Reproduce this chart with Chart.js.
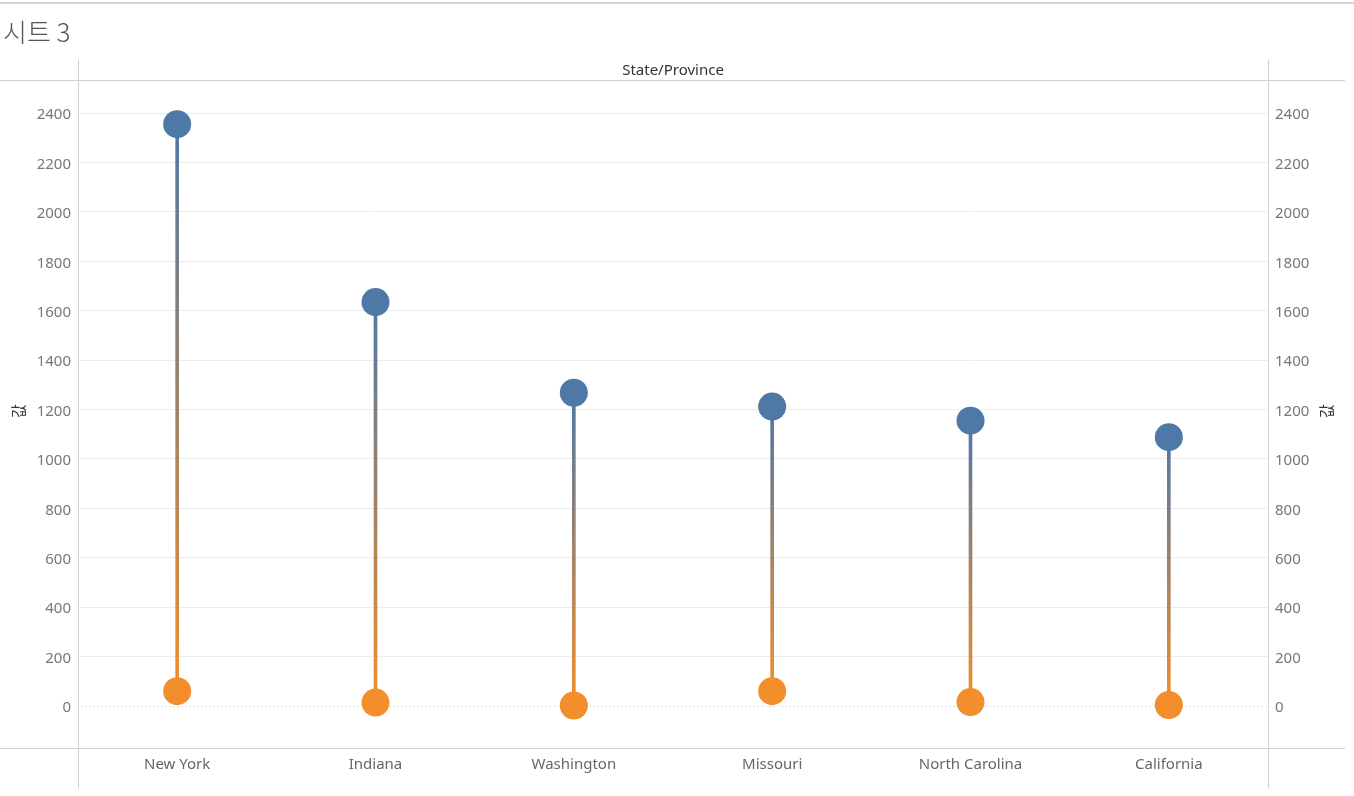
<!DOCTYPE html>
<html>
<head>
<meta charset="utf-8">
<script src="https://cdn.jsdelivr.net/npm/chart.js@4.4.1/dist/chart.umd.min.js"></script>
<style>
  html, body { margin: 0; padding: 0; background: #fff; }
  #wrap { position: relative; width: 1354px; height: 796px; }
  #title {
    position: absolute; left: 3px; top: 12px;
    font-family: "Noto Sans CJK KR", "Noto Sans", sans-serif;
    font-size: 26px; font-weight: 300; color: #555;
  }
</style>
</head>
<body>
<div id="wrap">
  <div id="title">시트 3</div>
  <canvas id="chart" width="1354" height="796"></canvas>
</div>
<script>
// Data
const states = ['New York', 'Indiana', 'Washington', 'Missouri', 'North Carolina', 'California'];
const highValues = [2355, 1635, 1268, 1212, 1155, 1088];
const lowValues = [60, 14, 2, 60, 16, 4];
const yTicks = [0, 200, 400, 600, 800, 1000, 1200, 1400, 1600, 1800, 2000, 2200, 2400];
const axisTitle = '값';

const BLUE = '#4e79a7';
const ORANGE = '#f28e2b';
const FONT = '"Noto Sans", "Open Sans", sans-serif';
const KFONT = '"Noto Sans CJK KR", sans-serif';

// Stem gradient, blue at top, orange at bottom
function stemColor(ctx) {
    const chart = ctx.chart;
    const y = chart.scales.y;
    if (!chart.chartArea || !y) return BLUE;
    const i = ctx.dataIndex;
    const top = y.getPixelForValue(highValues[i]);
    const bottom = y.getPixelForValue(lowValues[i]);
    const g = chart.ctx.createLinearGradient(0, top, 0, bottom);
    g.addColorStop(0, BLUE);
    g.addColorStop(1, ORANGE);
    return g;
}

// Frame lines, header text, axis titles and dotted zero line
const framePlugin = {
    id: 'frame',
    beforeDatasetsDraw(chart) {
        const { ctx, chartArea: a, scales: { y } } = chart;
        ctx.save();
        const z = Math.round(y.getPixelForValue(0)) + 0.5;
        ctx.strokeStyle = '#c4c4c4';
        ctx.lineWidth = 1;
        ctx.setLineDash([1, 3]);
        ctx.beginPath();
        ctx.moveTo(a.left, z);
        ctx.lineTo(a.right, z);
        ctx.stroke();
        ctx.restore();
    },
    afterDraw(chart) {
        const { ctx, chartArea: a } = chart;
        ctx.save();
        ctx.strokeStyle = '#d0d0d0';
        ctx.lineWidth = 1;
        const L = Math.round(a.left) + 0.5, R = Math.round(a.right) + 0.5;
        const T = Math.round(a.top) + 0.5, B = Math.round(a.bottom) + 0.5;
        ctx.beginPath();
        ctx.moveTo(L, 60); ctx.lineTo(L, 788);
        ctx.moveTo(R, 60); ctx.lineTo(R, 788);
        ctx.moveTo(0, T); ctx.lineTo(1345, T);
        ctx.moveTo(0, B); ctx.lineTo(1345, B);
        ctx.stroke();
        // top strip
        ctx.strokeStyle = '#d6d6d6';
        ctx.lineWidth = 2;
        ctx.beginPath();
        ctx.moveTo(0, 3); ctx.lineTo(1354, 3);
        ctx.stroke();
        // header
        ctx.fillStyle = '#333';
        ctx.font = '15px ' + FONT;
        ctx.textAlign = 'center';
        ctx.textBaseline = 'middle';
        ctx.fillText('State/Province', (a.left + a.right) / 2, 71);
        // axis titles, both read bottom to top
        ctx.font = '15px ' + KFONT;
        const midY = (a.top + a.bottom) / 2 - 3;
        [18, 1326].forEach(x => {
            ctx.save();
            ctx.translate(x, midY);
            ctx.rotate(-Math.PI / 2);
            ctx.fillText(axisTitle, 0, 0);
            ctx.restore();
        });
        ctx.restore();
    }
};

const yRange = { min: -170, max: 2534 };
const tickLabel = (v) => String(v);

new Chart(document.getElementById('chart'), {
    data: {
        labels: states,
        datasets: [
            {
                type: 'line',
                label: 'High',
                data: highValues,
                showLine: false,
                pointRadius: 14,
                pointHoverRadius: 14,
                pointBackgroundColor: BLUE,
                pointBorderWidth: 0,
                order: 0
            },
            {
                type: 'line',
                label: 'Low',
                data: lowValues,
                showLine: false,
                pointRadius: 14,
                pointHoverRadius: 14,
                pointBackgroundColor: ORANGE,
                pointBorderWidth: 0,
                order: 1
            },
            {
                type: 'bar',
                label: 'Stem',
                data: states.map((s, i) => [lowValues[i], highValues[i]]),
                backgroundColor: stemColor,
                barThickness: 3,
                borderWidth: 0,
                order: 2
            }
        ]
    },
    options: {
        responsive: false,
        animation: false,
        layout: { padding: { top: 80, left: 0, right: 0, bottom: 0 } },
        plugins: {
            legend: { display: false },
            tooltip: { enabled: false }
        },
        scales: {
            x: {
                type: 'category',
                offset: true,
                grid: { display: false },
                border: { display: false },
                ticks: { color: '#666', font: { family: FONT, size: 15 }, padding: 0, maxRotation: 0 },
                afterFit: (s) => { s.height = 48; }
            },
            y: {
                position: 'left',
                min: yRange.min,
                max: yRange.max,
                afterBuildTicks: (s) => { s.ticks = yTicks.map(v => ({ value: v })); },
                grid: {
                    color: (c) => c.tick && c.tick.value === 0 ? 'rgba(0,0,0,0)' : '#ececec',
                    drawTicks: false
                },
                border: { display: false },
                ticks: { color: '#777', font: { family: FONT, size: 15 }, padding: 7, labelOffset: 2, callback: tickLabel },
                afterFit: (s) => { s.width = 78; }
            },
            y2: {
                position: 'right',
                min: yRange.min,
                max: yRange.max,
                afterBuildTicks: (s) => { s.ticks = yTicks.map(v => ({ value: v })); },
                grid: { display: false, drawTicks: false },
                border: { display: false },
                ticks: { color: '#777', font: { family: FONT, size: 15 }, padding: 7, labelOffset: 2, callback: tickLabel },
                afterFit: (s) => { s.width = 86; }
            }
        }
    },
    plugins: [framePlugin]
});
</script>
</body>
</html>
